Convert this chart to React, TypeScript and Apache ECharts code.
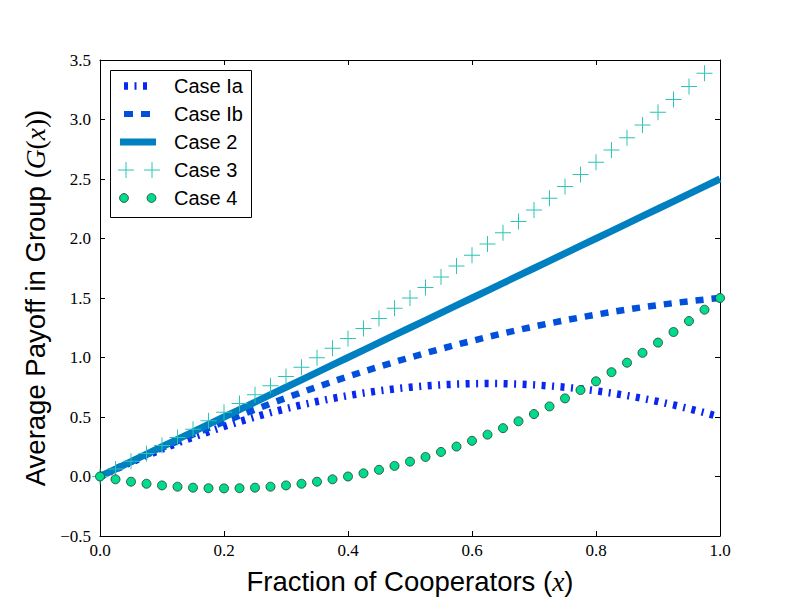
import React, { useEffect, useRef } from "react";
import * as echarts from "echarts";

const xGrid = [0, 0.025, 0.05, 0.075, 0.1, 0.125, 0.15, 0.175, 0.2, 0.225, 0.25, 0.275, 0.3, 0.325, 0.35, 0.375, 0.4, 0.425, 0.45, 0.475, 0.5, 0.525, 0.55, 0.575, 0.6, 0.625, 0.65, 0.675, 0.7, 0.725, 0.75, 0.775, 0.8, 0.825, 0.85, 0.875, 0.9, 0.925, 0.95, 0.975, 1.0];

const caseIa = [0, 0.0613, 0.12, 0.1763, 0.23, 0.2813, 0.33, 0.3763, 0.42, 0.4613, 0.5, 0.5363, 0.57, 0.6013, 0.63, 0.6563, 0.68, 0.7013, 0.72, 0.7363, 0.75, 0.7613, 0.77, 0.7763, 0.78, 0.7813, 0.78, 0.7763, 0.77, 0.7613, 0.75, 0.7363, 0.72, 0.7013, 0.68, 0.6563, 0.63, 0.6013, 0.57, 0.5363, 0.5];

const caseIb = [0, 0.0619, 0.1225, 0.1819, 0.24, 0.2969, 0.3525, 0.4069, 0.46, 0.5119, 0.5625, 0.6119, 0.66, 0.7069, 0.7525, 0.7969, 0.84, 0.8819, 0.9225, 0.9619, 1.0, 1.0369, 1.0725, 1.1069, 1.14, 1.1719, 1.2025, 1.2319, 1.26, 1.2869, 1.3125, 1.3369, 1.36, 1.3819, 1.4025, 1.4219, 1.44, 1.4569, 1.4725, 1.4869, 1.5];

const case2 = [0, 0.0625, 0.125, 0.1875, 0.25, 0.3125, 0.375, 0.4375, 0.5, 0.5625, 0.625, 0.6875, 0.75, 0.8125, 0.875, 0.9375, 1.0, 1.0625, 1.125, 1.1875, 1.25, 1.3125, 1.375, 1.4375, 1.5, 1.5625, 1.625, 1.6875, 1.75, 1.8125, 1.875, 1.9375, 2.0, 2.0625, 2.125, 2.1875, 2.25, 2.3125, 2.375, 2.4375, 2.5];

const case3 = [0, 0.0631, 0.1275, 0.1931, 0.26, 0.3281, 0.3975, 0.4681, 0.54, 0.6131, 0.6875, 0.7631, 0.84, 0.9181, 0.9975, 1.0781, 1.16, 1.2431, 1.3275, 1.4131, 1.5, 1.5881, 1.6775, 1.7681, 1.86, 1.9531, 2.0475, 2.1431, 2.24, 2.3381, 2.4375, 2.5381, 2.64, 2.7431, 2.8475, 2.9531, 3.06, 3.1681, 3.2775, 3.3881];

const case4 = [0, -0.0234, -0.0438, -0.0609, -0.075, -0.0859, -0.0938, -0.0984, -0.1, -0.0984, -0.0938, -0.0859, -0.075, -0.0609, -0.0438, -0.0234, 0, 0.0266, 0.0563, 0.0891, 0.125, 0.1641, 0.2063, 0.2516, 0.3, 0.3516, 0.4063, 0.4641, 0.525, 0.5891, 0.6563, 0.7266, 0.8, 0.8766, 0.9563, 1.0391, 1.125, 1.2141, 1.3063, 1.4016, 1.5];

const seriesNames = ["Case Ia", "Case Ib", "Case 2", "Case 3", "Case 4"];

const COLORS = {
  ia: "#0a26f0",
  ib: "#0050dc",
  c2: "#0080c0",
  c3: "#2ec4b6",
  c4: "#00dc8c",
};

const zip = (ys: number[]) => ys.map((y, i) => [xGrid[i], y]);

const PLUS = "path://M7.5,0h1v16h-1z M0,7.5h16v1h-16z";

export default function App() {
  const ref = useRef<HTMLDivElement>(null);

  useEffect(() => {
    if (!ref.current) return;
    document.body.style.margin = "0";
    document.body.style.overflow = "hidden";
    const chart = echarts.init(ref.current, null, { renderer: "svg", width: 800, height: 600 });

    const sans = "Liberation Sans, Arial, Helvetica, sans-serif";
    const serif = "Liberation Serif, Times New Roman, serif";
    const fmt = (v: number) => v.toFixed(1).replace("-", "\u2212");
    const NAME_SIZE = 27.5;

    const axisCommon = {
      type: "value" as const,
      axisLine: { show: true, onZero: false, lineStyle: { color: "#000", width: 1 } },
      axisTick: { show: true, inside: true, length: 5, lineStyle: { color: "#000", width: 1 } },
      splitLine: { show: false },
    };

    const rowY = [86, 114, 142, 170, 198];
    const textX = 174;

    const legendGraphic: any[] = [
      {
        type: "rect",
        shape: { x: 110.5, y: 70.5, width: 141, height: 147 },
        style: { fill: "#fff", stroke: "#000", lineWidth: 1 },
        z: 100,
      },
      {
        type: "line",
        shape: { x1: 124, y1: rowY[0], x2: 148.5, y2: rowY[0] },
        style: { stroke: COLORS.ia, lineWidth: 7.5, lineDash: [4, 6.5, 2, 6.5], lineCap: "butt" },
        z: 101,
      },
      {
        type: "line",
        shape: { x1: 124, y1: rowY[1], x2: 150, y2: rowY[1] },
        style: { stroke: COLORS.ib, lineWidth: 6, lineDash: [9, 8], lineCap: "butt" },
        z: 101,
      },
      {
        type: "line",
        shape: { x1: 120, y1: rowY[2], x2: 156, y2: rowY[2] },
        style: { stroke: COLORS.c2, lineWidth: 7, lineCap: "butt" },
        z: 101,
      },
    ];
    [126, 152].forEach((cx) => {
      legendGraphic.push(
        {
          type: "line",
          shape: { x1: cx - 8, y1: rowY[3], x2: cx + 8, y2: rowY[3] },
          style: { stroke: COLORS.c3, lineWidth: 1 },
          z: 101,
        },
        {
          type: "line",
          shape: { x1: cx, y1: rowY[3] - 8, x2: cx, y2: rowY[3] + 8 },
          style: { stroke: COLORS.c3, lineWidth: 1 },
          z: 101,
        }
      );
    });
    [124, 151.5].forEach((cx) => {
      legendGraphic.push({
        type: "circle",
        shape: { cx, cy: rowY[4], r: 4.4 },
        style: { fill: COLORS.c4, stroke: "#1e3a30", lineWidth: 0.8 },
        z: 101,
      });
    });
    seriesNames.forEach((name, i) => {
      legendGraphic.push({
        type: "text",
        x: textX,
        y: rowY[i],
        style: {
          text: name,
          font: `20px ${sans}`,
          fill: "#000",
          verticalAlign: "middle",
          align: "left",
        },
        z: 101,
      });
    });

    chart.setOption({
      animation: false,
      backgroundColor: "#fff",
      grid: { left: 100, right: 80, top: 60, bottom: 60, containLabel: false },
      xAxis: [
        {
          ...axisCommon,
          position: "bottom",
          min: 0,
          max: 1,
          interval: 0.2,
          axisLabel: {
            show: true,
            margin: 6,
            color: "#000",
            fontFamily: serif,
            fontSize: 17,
            formatter: fmt,
          },
          name: "Fraction of Cooperators ({x|x})",
          nameLocation: "middle",
          nameGap: 31,
          nameTextStyle: {
            color: "#000",
            fontFamily: sans,
            fontSize: NAME_SIZE,
            rich: {
              x: { fontFamily: serif, fontStyle: "italic", fontSize: NAME_SIZE, color: "#000" },
            },
          },
        },
        {
          ...axisCommon,
          position: "top",
          min: 0,
          max: 1,
          interval: 0.2,
          axisLabel: { show: false },
        },
      ],
      yAxis: [
        {
          ...axisCommon,
          position: "left",
          min: -0.5,
          max: 3.5,
          interval: 0.5,
          axisLabel: {
            show: true,
            margin: 9,
            color: "#000",
            fontFamily: serif,
            fontSize: 17,
            formatter: fmt,
          },
          name: "Average Payoff in Group ({i|G}{m|(}{i|x}{m|)})",
          nameLocation: "middle",
          nameGap: 43,
          nameTextStyle: {
            color: "#000",
            fontFamily: sans,
            fontSize: NAME_SIZE,
            rich: {
              i: { fontFamily: serif, fontStyle: "italic", fontSize: NAME_SIZE, color: "#000" },
              m: { fontFamily: serif, fontSize: NAME_SIZE, color: "#000" },
            },
          },
        },
        {
          ...axisCommon,
          position: "right",
          min: -0.5,
          max: 3.5,
          interval: 0.5,
          axisLabel: { show: false },
        },
      ],
      series: [
        {
          name: seriesNames[0],
          type: "line",
          data: zip(caseIa),
          showSymbol: false,
          lineStyle: { color: COLORS.ia, width: 7.5, type: [4, 6.5, 2, 6.5], cap: "butt" },
          z: 2,
        },
        {
          name: seriesNames[1],
          type: "line",
          data: zip(caseIb),
          showSymbol: false,
          lineStyle: { color: COLORS.ib, width: 6.5, type: [8, 8], cap: "butt" },
          z: 2,
        },
        {
          name: seriesNames[2],
          type: "line",
          data: zip(case2),
          showSymbol: false,
          lineStyle: { color: COLORS.c2, width: 7, type: "solid", cap: "butt" },
          z: 2,
        },
        {
          name: seriesNames[3],
          type: "scatter",
          data: zip(case3),
          symbol: PLUS,
          symbolSize: 16,
          itemStyle: { color: COLORS.c3, opacity: 1 },
          z: 3,
        },
        {
          name: seriesNames[4],
          type: "scatter",
          data: zip(case4),
          symbol: "circle",
          symbolSize: 9,
          itemStyle: { color: COLORS.c4, borderColor: "#1e3a30", borderWidth: 0.8, opacity: 1 },
          z: 4,
        },
      ],
      graphic: legendGraphic,
    });

    return () => chart.dispose();
  }, []);

  return (
    <div
      ref={ref}
      style={{ position: "absolute", left: 0, top: 0, width: 800, height: 600, overflow: "hidden" }}
    />
  );
}
